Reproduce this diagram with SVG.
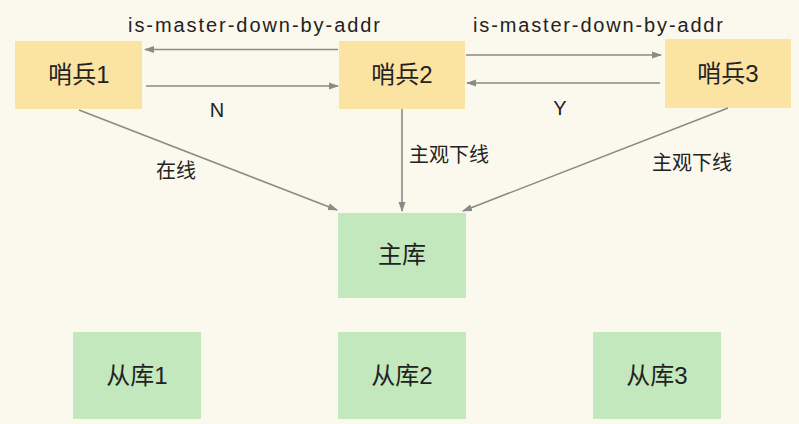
<svg xmlns="http://www.w3.org/2000/svg" width="799" height="424" viewBox="0 0 799 424">
<defs>
<style>
.bg{fill:#fbf8ed}
.y{fill:#fbe3a2}
.g{fill:#c3e8bd}
.t{font-family:"Liberation Sans","Noto Sans CJK SC",sans-serif;fill:#222;text-anchor:middle}
.n{font-size:24px}
.l{font-size:20px}
.e{font-size:20px}
.c{stroke:#8a8a86;stroke-width:1.6;fill:none;marker-end:url(#a)}
</style>
<marker id="a" markerWidth="10" markerHeight="8" refX="9" refY="4" orient="auto" markerUnits="userSpaceOnUse">
<path d="M0,0.5 L10,4 L0,7.5 z" fill="#8a8a86"/>
</marker>
</defs>
<rect class="bg" width="799" height="424"/>
<g id="s1"><rect class="y" x="15" y="41" width="127" height="68"/><text class="t n" x="79" y="83">哨兵1</text></g>
<g id="s2"><rect class="y" x="339" y="41" width="126" height="68"/><text class="t n" x="402" y="83">哨兵2</text></g>
<g id="s3"><rect class="y" x="665" y="39" width="126" height="69"/><text class="t n" x="728" y="82">哨兵3</text></g>
<g id="m"><rect class="g" x="338" y="213" width="128" height="85"/><text class="t n" x="402" y="263">主库</text></g>
<g id="r1"><rect class="g" x="73" y="332" width="128" height="87"/><text class="t n" x="137" y="384">从库1</text></g>
<g id="r2"><rect class="g" x="338" y="332" width="128" height="87"/><text class="t n" x="402" y="384">从库2</text></g>
<g id="r3"><rect class="g" x="593" y="332" width="128" height="87"/><text class="t n" x="657" y="384">从库3</text></g>
<g id="connectors">
<line class="c" x1="338" y1="49.5" x2="145" y2="49.5"/>
<line class="c" x1="146" y1="86" x2="338" y2="86"/>
<line class="c" x1="466" y1="55" x2="661" y2="55"/>
<line class="c" x1="660" y1="83" x2="467" y2="83"/>
<line class="c" x1="79" y1="110" x2="337" y2="210"/>
<line class="c" x1="402" y1="109" x2="402" y2="211"/>
<line class="c" x1="728" y1="108" x2="463" y2="211"/>
<text class="t l" x="254" y="32" textLength="252" lengthAdjust="spacing">is-master-down-by-addr</text>
<text class="t l" x="598" y="32" textLength="250" lengthAdjust="spacing">is-master-down-by-addr</text>
<text class="t e" x="217" y="117">N</text>
<text class="t e" x="560" y="115">Y</text>
<text class="t e" x="176" y="178">在线</text>
<text class="t e" x="449" y="162">主观下线</text>
<text class="t e" x="692" y="170">主观下线</text>
</g>
</svg>
